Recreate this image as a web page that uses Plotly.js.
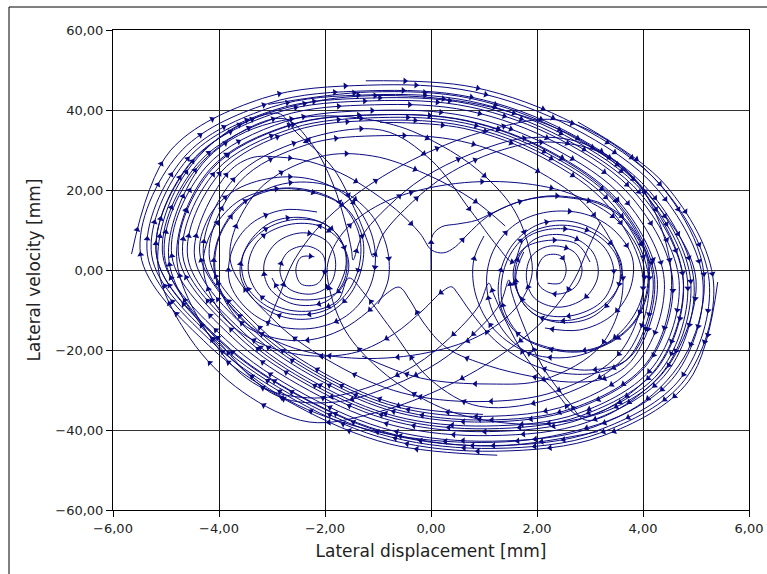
<!DOCTYPE html>
<html><head><meta charset="utf-8">
<script src="https://cdn.plot.ly/plotly-3.0.1.min.js"></script>
<style>html,body{margin:0;padding:0;background:#fff}#c{width:767px;height:574px}</style>
</head><body><div id="c"></div>
<script>
// Tick labels
const xTicks = [-6,-4,-2,0,2,4,6];
const xTickText = ['\u22126,00','\u22124,00','\u22122,00','0,00','2,00','4,00','6,00'];
const yTicks = [-60,-40,-20,0,20,40,60];
const yTickText = ['\u221260,00','\u221240,00','\u221220,00','0,00','20,00','40,00','60,00'];

// Trajectory 1
const t1x = [-5.65,-4.92,-3.18,-1.20,0.79,2.67,4.27,5.13,4.61,3.06,1.16,-0.72,-2.37,-3.88,-5.06,-4.40,-2.84,-1.07,0.70,2.38,3.80,4.56,4.09,2.71,1.03,-0.64,-2.09,-3.43,-4.46,-3.88];
const t1y = [4.0,29.8,42.9,46.2,44.6,35.6,20.2,-2.8,-26.3,-39.3,-42.8,-40.2,-31.2,-17.3,3.6,26.6,38.4,41.3,39.8,31.7,18.0,-2.5,-23.4,-34.8,-38.0,-35.6,-27.6,-15.3,3.2,23.5];
const pUAx = [-3.40,-2.85,-2.29,-1.70,-1.25,-0.65,-0.21,0.01,0.24,0.46,0.68,1.06,1.58,2.17,2.69,3.14,3.58,3.88,4.07,4.10,4.03,3.81,3.40,2.85];
const pUAy = [28.0,28.2,27.1,24.2,20.8,15.0,9.2,5.0,4.3,5.8,8.75,13.3,16.7,18.3,17.9,16.7,13.3,8.3,3.3,-1.7,-7.5,-13.3,-17.8,-20.2];
const rAx = [2.20,1.60,1.30,1.30,1.55,2.05,2.70,3.30,3.60,3.45,3.00,2.35,1.85,1.60,1.65,2.00,2.60,3.05,3.15,2.90,2.40,1.95,1.80,1.90,2.25,2.70,2.85,2.70,2.35,2.05,2.00,2.15,2.45,2.55,2.45,2.20];
const rAy = [-19.3,-15.5,-8.5,-1.0,6.5,11.5,12.0,8.0,1.0,-6.5,-12.0,-13.0,-10.0,-4.0,3.0,8.0,8.5,4.5,-1.5,-7.0,-9.3,-7.0,-2.0,3.5,6.0,4.5,0.0,-4.5,-6.0,-4.0,0.0,3.5,3.5,0.0,-3.2,-3.3];

// Trajectory 2
const t2x = [5.41,4.86,3.23,1.22,-0.77,-2.50,-4.11,-5.35,-4.66,-3.01,-1.14,0.74,2.52,4.03,4.84,4.35,2.89,1.09,-0.68,-2.23,-3.66,-4.76,-4.14,-2.67,-1.01,0.66,2.23,3.56,4.27,3.83];
const t2y = [-3.0,-27.8,-41.5,-45.3,-42.5,-33.0,-18.3,3.8,28.2,40.7,43.8,42.2,33.7,19.1,-2.7,-24.9,-37.0,-40.4,-37.9,-29.4,-16.3,3.4,25.1,36.1,38.8,37.4,29.8,16.9,-2.4,-21.9];
const pLAx = [3.30,2.60,1.90,1.10,0.30,-0.15,-0.40,-0.60,-0.85,-1.20,-1.70,-2.30,-2.95,-3.55,-3.95,-4.10,-3.95,-3.55,-2.90];
const pLAy = [-27.0,-28.0,-26.6,-24.0,-19.5,-13.0,-7.5,-4.3,-6.0,-10.5,-15.0,-17.5,-17.0,-13.5,-6.0,1.7,10.0,16.8,20.2];
const lAx = [-2.20,-1.60,-1.30,-1.30,-1.55,-2.05,-2.70,-3.30,-3.60,-3.45,-3.00,-2.35,-1.85,-1.60,-1.65,-2.00,-2.60,-3.05,-3.15,-2.90,-2.40,-1.95,-1.80,-1.90,-2.25,-2.70,-2.85,-2.70,-2.35,-2.05,-2.00,-2.15,-2.45,-2.55,-2.45,-2.20];
const lAy = [19.3,15.5,8.5,1.0,-6.5,-11.5,-12.0,-8.0,-1.0,6.5,12.0,13.0,10.0,4.0,-3.0,-8.0,-8.5,-4.5,1.5,7.0,9.3,7.0,2.0,-3.5,-6.0,-4.5,0.0,4.5,6.0,4.0,0.0,-3.5,-3.5,0.0,3.2,3.3];

// Trajectory 3
const t3x = [1.25,-0.78,-2.56,-4.20,-5.48,-4.77,-3.08,-1.17,0.76,2.58,4.13,4.96,4.46,2.96,1.12,-0.70,-2.29,-3.75,-4.89,-4.25,-2.75,-1.04,0.68,2.29,3.67,4.40,3.94,2.62,0.99,-0.62,-2.02,-3.30,-4.29,-3.73,-2.41,-0.91,0.00,0.75,1.25,1.55];
const t3y = [-46.3,-43.5,-33.8,-18.8,3.9,28.9,41.6,44.8,43.2,34.5,19.6,-2.8,-25.5,-38.0,-41.4,-38.9,-30.2,-16.8,3.5,25.7,37.1,39.9,38.4,30.6,17.4,-2.4,-22.5,-33.6,-36.6,-34.3,-26.6,-14.7,3.0,22.6,32.5,34.9,27.5,14.8,6.0,2.0];
const rBx = [1.75,2.15,2.75,3.25,3.45,3.25,2.70,2.10,1.70,1.55,1.72,2.15,2.75,3.00];
const rBy = [7.5,10.0,9.8,6.0,-0.5,-7.5,-11.3,-11.0,-7.0,-1.0,5.0,7.3,6.5,2.0];

// Trajectory 4
const t4x = [-1.23,0.80,2.73,4.37,5.25,4.72,3.13,1.18,-0.74,-2.42,-3.98,-5.18,-4.51,-2.92,-1.10,0.72,2.44,3.90,4.68,4.20,2.79,1.05,-0.66,-2.15,-3.53,-4.59,-3.99,-2.58,-0.97,0.63,2.15,3.43,4.11,3.69,2.44,0.92,0.00,-0.75,-1.25,-1.55];
const t4y = [47.3,45.7,36.4,20.7,-2.9,-26.9,-40.2,-43.9,-41.2,-32.0,-17.8,3.7,27.3,39.3,42.3,40.8,32.6,18.5,-2.6,-24.0,-35.8,-39.0,-36.6,-28.4,-15.7,3.2,24.1,34.8,37.4,36.0,28.7,16.3,-2.3,-21.1,-31.4,-34.1,-27.5,-14.8,-6.0,-2.0];
const lBx = [-1.75,-2.15,-2.75,-3.25,-3.45,-3.25,-2.70,-2.10,-1.70,-1.55,-1.72,-2.15,-2.75,-3.00];
const lBy = [-7.5,-10.0,-9.8,-6.0,0.5,7.5,11.3,11.0,7.0,1.0,-5.0,-7.3,-6.5,-2.0];

// Trajectory 5
const t5x = [2.77,4.44,5.33,4.79,3.18,1.20,-0.75,-2.46,-4.04,-5.27,-4.59,-2.96,-1.12,0.73,2.48,3.97,4.76,4.28,2.84,1.07,-0.67,-2.19,-3.59,-4.68,-4.07,-2.62,-0.99,0.65,2.19,3.50,4.19,3.76];
const t5y = [37.0,21.0,-3.0,-27.4,-40.8,-44.6,-41.8,-32.5,-18.0,3.7,27.8,40.0,43.0,41.5,33.1,18.8,-2.6,-24.4,-36.4,-39.7,-37.2,-28.9,-16.0,3.3,24.6,35.4,38.1,36.7,29.2,16.6,-2.3,-21.5];
const pLBx = [3.20,2.50,1.80,1.20,0.75,0.50,0.39,0.20,-0.15,-0.70,-1.40,-2.20,-3.00,-3.70,-4.15,-4.30,-4.10,-3.60,-2.86];
const pLBy = [-25.5,-25.8,-23.0,-17.5,-10.5,-5.8,-4.2,-5.5,-10.0,-16.0,-20.5,-21.5,-19.5,-14.5,-6.5,2.0,10.5,17.5,20.4];
const lCx = [-2.25,-1.70,-1.38,-1.33,-1.50,-1.90,-2.50,-3.10,-3.50,-3.55,-3.20,-2.65,-2.05,-1.70,-1.60,-1.75];
const lCy = [19.8,16.5,10.0,3.0,-4.0,-9.5,-11.2,-9.0,-3.5,3.5,9.5,12.5,11.8,7.5,1.5,-4.5];

// Trajectory 0 (from the origin)
const t0x = [0.00,0.00,0.00,0.03,0.20,0.50,0.85,1.15,1.62,2.20,2.72,3.17,3.60,3.90,4.09,4.12,4.05,3.83,3.42,2.86];
const t0y = [0.0,2.5,5.5,8.7,10.8,11.5,12.4,14.2,16.9,18.5,18.1,16.9,13.5,8.4,3.3,-1.7,-7.5,-13.3,-17.9,-20.4];
const rCx = [2.25,1.70,1.38,1.33,1.50,1.90,2.50,3.10,3.50,3.55,3.20,2.65,2.05,1.70,1.60,1.75];
const rCy = [-19.8,-16.5,-10.0,-3.0,4.0,9.5,11.2,9.0,3.5,-3.5,-9.5,-12.5,-11.8,-7.5,-1.5,4.5];

// Trajectory 6 (in-and-out passages)
const t6x = [3.15,1.19,-0.73,-2.41,-3.96,-5.18,-4.50,-2.90,-2.55,-1.85,-1.40,-1.18,-1.09,-0.90,-0.35,0.30,1.24,2.20,3.25,4.05,4.76,4.26,2.85,2.35,1.80,1.40,1.18,1.09,0.90,0.35,-0.30,-1.24,-2.20,-3.25,-4.05,-4.80,-4.17,-2.68,-1.01,0.66,2.22,3.53,4.22,3.77,3.00,2.20,1.55,1.15,1.05,1.20,1.60,2.20,2.90,3.45,3.80,3.75,3.40,2.80,2.15];
const t6y = [-40.4,-44.0,-41.0,-31.9,-17.7,3.7,27.2,39.2,34.5,25.5,14.0,6.5,3.3,9.0,17.0,23.8,29.6,32.0,29.0,19.0,-2.6,-24.4,-36.6,-30.5,-22.0,-12.5,-6.0,-3.3,-9.0,-17.0,-23.8,-29.6,-32.0,-29.0,-19.0,3.4,25.2,36.2,38.8,37.3,29.6,16.7,-2.3,-21.6,-25.0,-23.0,-18.0,-10.0,-2.0,5.5,11.5,14.5,14.0,10.0,3.0,-5.0,-11.5,-15.0,-14.5];

// Trajectory 7 (in-and-out passages)
const t7x = [-3.07,-1.16,0.75,2.56,4.08,4.90,4.40,2.95,2.60,2.10,1.72,1.52,1.47,1.30,0.80,0.15,-0.75,-1.80,-2.90,-3.90,-5.03,-4.36,-2.81,-2.25,-1.85,-1.60,-1.50,-1.47,-1.30,-0.80,-0.15,0.75,1.80,2.90,3.95,4.54,4.07,2.69,1.01,-0.63,-2.05,-3.35,-4.35,-4.20,-3.75,-3.00,-2.20,-1.55,-1.15,-1.05,-1.20,-1.60,-2.20,-2.90,-3.45,-3.80,-3.75,-3.40,-2.80,-2.15];
const t7y = [41.4,44.5,42.9,34.1,19.4,-2.8,-25.1,-37.6,-33.0,-24.0,-13.0,-5.5,-2.5,-8.5,-16.0,-23.0,-29.0,-33.0,-31.5,-19.5,3.6,26.4,37.9,31.5,21.5,11.0,5.0,2.5,8.5,16.0,23.0,29.0,33.0,31.5,21.0,-2.5,-23.2,-34.5,-37.5,-35.0,-27.1,-15.0,3.1,13.0,19.5,23.0,22.5,18.0,10.0,2.0,-5.5,-11.5,-14.5,-14.0,-10.0,-3.0,5.0,11.5,15.0,14.5];

// Trajectory 8 (escapes the left lobe, then crosses the middle)
const t8x = [-3.10,-2.85,-2.60,-2.10,-1.30,-0.20,1.10,2.40,3.60,4.60,5.15,4.85,3.90,2.30,0.50,-1.30,-2.90,-4.20,-4.95,-4.40,-3.50,-2.09,-0.71,0.17,0.92,1.55,1.85,1.90,1.60,0.90,-0.20,-1.50,-2.70,-3.60,-4.05,-4.00,-3.55,-2.80,-1.90,-1.20,-0.85,-0.80,-1.00];
const t8y = [-14.0,-6.0,2.0,11.0,20.0,28.5,35.0,37.5,30.0,16.5,-1.0,-20.0,-34.0,-41.5,-43.0,-39.5,-31.0,-16.0,3.0,25.0,34.5,38.5,36.3,31.3,24.6,15.4,5.4,-1.5,-9.5,-16.5,-21.0,-22.0,-19.0,-12.0,-2.0,8.0,16.5,21.5,21.0,15.0,6.5,-2.0,-8.5];

// Trajectory 9 (escapes the right lobe, then crosses the middle)
const t9x = [3.20,2.95,2.70,2.20,1.40,0.30,-1.00,-2.30,-3.55,-4.55,-5.15,-4.80,-3.85,-2.25,-0.45,1.35,2.95,4.25,5.00,4.45,3.45,2.05,0.65,-0.25,-1.00,-1.60,-1.90,-1.95,-1.65,-0.95,0.15,1.45,2.65,3.55,4.00,3.95,3.50,2.75,1.90,1.20,0.85,0.80,1.00];
const t9y = [12.0,5.0,-2.5,-11.5,-20.5,-29.0,-35.5,-38.0,-30.5,-17.0,1.0,20.5,34.5,42.0,43.5,40.0,31.5,16.5,-2.5,-24.5,-34.5,-38.5,-36.5,-31.5,-24.5,-15.5,-5.5,1.5,9.5,16.5,21.0,22.0,19.0,12.0,2.0,-8.0,-16.5,-21.5,-21.0,-15.0,-6.5,2.0,8.5];

// Trajectories 10 and 11 (mid-size orbits)
const t10x = [0.98,-0.61,-1.98,-3.23,-4.18,-3.62,-2.33,-0.87,0.57,1.91,3.04,3.62,3.23,2.13,1.10,-0.20,-1.30];
const t10y = [-36.1,-33.7,-26.1,-14.4,3.0,21.9,31.4,33.6,32.2,25.5,14.4,-2.0,-18.5,-27.4,-28.5,-27.0,-21.5];
const t11x = [-0.96,0.62,2.11,3.35,4.00,3.58,2.36,0.89,-0.55,-1.79,-2.92,-3.79,-3.27,-2.10,-1.10,-0.10,0.80,1.40];
const t11y = [36.9,35.4,28.1,15.9,-2.2,-20.4,-30.3,-32.9,-30.7,-23.7,-13.1,2.7,19.8,28.3,28.5,24.0,17.5,11.0];

const trajectories = [
  [t1x.concat(pUAx, rAx), t1y.concat(pUAy, rAy)],
  [t2x.concat(pLAx, lAx), t2y.concat(pLAy, lAy)],
  [t3x.concat(rBx), t3y.concat(rBy)],
  [t4x.concat(lBx), t4y.concat(lBy)],
  [t5x.concat(pLBx, lCx), t5y.concat(pLBy, lCy)],
  [t0x.concat(rCx), t0y.concat(rCy)],
  [t6x, t6y],
  [t7x, t7y],
  [t8x, t8y],
  [t9x, t9y],
  [t10x, t10y],
  [t11x, t11y]
];

const navy = '#0a0a80';
const traces = trajectories.map(([xs, ys]) => ({
  type: 'scatter', mode: 'lines', x: xs, y: ys,
  line: {color: navy, width: 1, shape: 'spline', smoothing: 1, simplify: false},
  hoverinfo: 'skip', showlegend: false
}));

const font = {family: 'DejaVu Sans, Verdana, sans-serif', size: 13, color: '#222'};
const layout = {
  width: 767, height: 574,
  margin: {l: 113, r: 18, t: 30, b: 64},
  paper_bgcolor: '#fff', plot_bgcolor: '#fff',
  font: font, showlegend: false,
  xaxis: {
    range: [-6, 6], tickmode: 'array', tickvals: xTicks, ticktext: xTickText,
    showgrid: true, gridcolor: '#111', gridwidth: 1, zeroline: false,
    showline: true, linecolor: '#000', linewidth: 1, mirror: true,
    ticks: 'outside', ticklen: 6, tickcolor: '#000', tickfont: font,
    title: {text: 'Lateral displacement [mm]', font: {family: font.family, size: 17, color: '#222'}, standoff: 10}
  },
  yaxis: {
    range: [-60, 60], tickmode: 'array', tickvals: yTicks, ticktext: yTickText,
    showgrid: true, gridcolor: '#333', gridwidth: 1, zeroline: false,
    showline: true, linecolor: '#000', linewidth: 1, mirror: true,
    ticks: 'outside', ticklen: 6, tickcolor: '#000', tickfont: font,
    title: {text: 'Lateral velocity [mm]', font: {family: font.family, size: 17, color: '#222'}, standoff: 10}
  },
  shapes: [
    {type: 'line', xref: 'paper', yref: 'paper', x0: -0.1635, x1: 1.06, y0: 1.0479, y1: 1.0479, line: {color: '#000', width: 1}},
    {type: 'line', xref: 'paper', yref: 'paper', x0: -0.1635, x1: -0.1635, y0: 1.0479, y1: -0.16, line: {color: '#000', width: 1}}
  ]
};

// Same tangent construction as Plotly's spline, used to put direction arrows on the drawn curves
function makeTangent(p0, p1, p2, sm) {
  const d1x = p0[0]-p1[0], d1y = p0[1]-p1[1], d2x = p2[0]-p1[0], d2y = p2[1]-p1[1];
  const d1a = Math.pow(d1x*d1x+d1y*d1y, 0.25), d2a = Math.pow(d2x*d2x+d2y*d2y, 0.25);
  const nx = (d2a*d2a*d1x - d1a*d1a*d2x)*sm, ny = (d2a*d2a*d1y - d1a*d1a*d2y)*sm;
  const den1 = 3*d2a*(d1a+d2a), den2 = 3*d1a*(d1a+d2a);
  return [[p1[0]+(den1 && nx/den1), p1[1]+(den1 && ny/den1)], [p1[0]-(den2 && nx/den2), p1[1]-(den2 && ny/den2)]];
}
function bez(seg, t) {
  const u = 1-t;
  if (seg.length === 3) {
    const [a,b,c] = seg;
    return [u*u*a[0]+2*u*t*b[0]+t*t*c[0], u*u*a[1]+2*u*t*b[1]+t*t*c[1]];
  }
  const [a,b,c,d] = seg;
  return [u*u*u*a[0]+3*u*u*t*b[0]+3*u*t*t*c[0]+t*t*t*d[0], u*u*u*a[1]+3*u*u*t*b[1]+3*u*t*t*c[1]+t*t*t*d[1]];
}

Plotly.newPlot('c', traces, layout, {displayModeBar: false, staticPlot: true}).then(gd => {
  const xa = gd._fullLayout.xaxis, ya = gd._fullLayout.yaxis;
  const ax = [], ay = [], ang = [];
  const spacing = 70;
  trajectories.forEach(([xs, ys], k) => {
    const P = xs.map((x, i) => [xa.l2p(x), ya.l2p(ys[i])]);
    const n = P.length, tg = [];
    for (let i = 1; i < n-1; i++) tg[i] = makeTangent(P[i-1], P[i], P[i+1], 1);
    let next = 22 + (k*29) % spacing, acc = 0;
    for (let i = 0; i < n-1; i++) {
      let seg;
      if (i === 0) seg = [P[0], tg[1][0], P[1]];
      else if (i === n-2) seg = [P[n-2], tg[n-2][1], P[n-1]];
      else seg = [P[i], tg[i][1], tg[i+1][0], P[i+1]];
      let prev = bez(seg, 0);
      for (let s = 1; s <= 24; s++) {
        const cur = bez(seg, s/24);
        const dl = Math.hypot(cur[0]-prev[0], cur[1]-prev[1]);
        acc += dl;
        if (acc >= next && dl > 0) {
          ax.push(xa.p2l(cur[0])); ay.push(ya.p2l(cur[1]));
          ang.push(Math.atan2(cur[0]-prev[0], -(cur[1]-prev[1])) * 180/Math.PI);
          next += spacing;
        }
        prev = cur;
      }
    }
  });
  return Plotly.addTraces(gd, [{
    type: 'scatter', mode: 'markers', x: ax, y: ay, hoverinfo: 'skip', showlegend: false,
    marker: {symbol: 'triangle-up', size: 6, color: navy, angle: ang, line: {width: 0}}
  }]);
});
</script></body></html>
